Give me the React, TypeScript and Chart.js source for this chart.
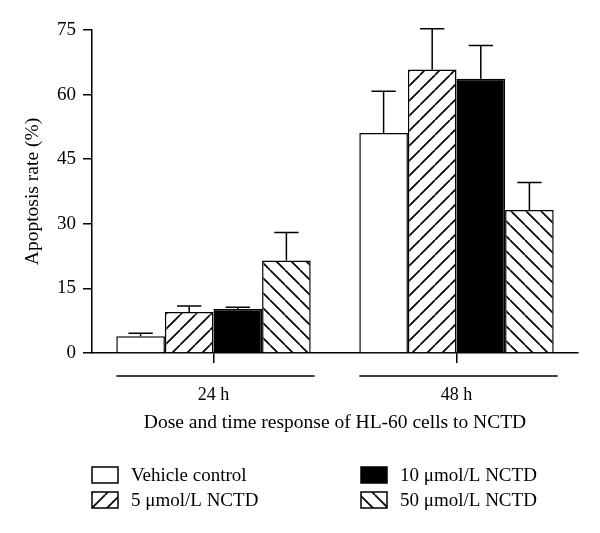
import React, { useEffect, useRef } from "react";
import { Chart, registerables } from "chart.js";

Chart.register(...registerables);

const categories = ["24 h", "48 h"];
const seriesNames = [
  "Vehicle control",
  "5 \u03bcmol/L NCTD",
  "10 \u03bcmol/L NCTD",
  "50 \u03bcmol/L NCTD",
];
const vehicleValues = [3.9, 51.1];
const nctd5Values = [9.5, 65.8];
const nctd10Values = [10.2, 63.7];
const nctd50Values = [21.5, 33.2];
const vehicleErr = [0.7, 9.7];
const nctd5Err = [1.4, 9.5];
const nctd10Err = [0.4, 7.7];
const nctd50Err = [6.5, 6.4];
const yTicks = [0, 15, 30, 45, 60, 75];

const FONT = "'Liberation Serif', 'DejaVu Serif', serif";

function makeHatch(dir: "fwd" | "back", size: number): CanvasPattern | string {
  const c = document.createElement("canvas");
  c.width = size;
  c.height = size;
  const g = c.getContext("2d");
  if (!g) return "#fff";
  g.fillStyle = "#fff";
  g.fillRect(0, 0, size, size);
  g.strokeStyle = "#000";
  g.lineWidth = 1.7;
  g.beginPath();
  for (let k = -1; k <= 1; k++) {
    if (dir === "fwd") {
      g.moveTo(k * size, size);
      g.lineTo(k * size + size, 0);
    } else {
      g.moveTo(k * size, 0);
      g.lineTo(k * size + size, size);
    }
  }
  g.stroke();
  const p = g.createPattern(c, "repeat");
  return p || "#fff";
}

export default function App() {
  const ref = useRef<HTMLCanvasElement | null>(null);

  useEffect(() => {
    if (!ref.current) return;
    const fwd = makeHatch("fwd", 15);
    const back = makeHatch("back", 15);
    const fills: any[] = ["#ffffff", fwd, "#000000", back];
    const values = [vehicleValues, nctd5Values, nctd10Values, nctd50Values];
    const errs = [vehicleErr, nctd5Err, nctd10Err, nctd50Err];

    const errorBarPlugin = {
      id: "errorBars",
      afterDatasetsDraw(chart: any) {
        const ctx = chart.ctx;
        const y = chart.scales.y;
        ctx.save();
        ctx.strokeStyle = "#000";
        ctx.lineWidth = 1.5;
        chart.data.datasets.forEach((ds: any, di: number) => {
          const meta = chart.getDatasetMeta(di);
          meta.data.forEach((bar: any, i: number) => {
            const v = ds.data[i];
            const e = errs[di][i];
            const top = y.getPixelForValue(v + e);
            const half = bar.width / 4;
            ctx.beginPath();
            ctx.moveTo(bar.x, bar.y);
            ctx.lineTo(bar.x, top);
            ctx.moveTo(bar.x - half, top);
            ctx.lineTo(bar.x + half, top);
            ctx.stroke();
          });
        });
        ctx.restore();
      },
    };

    const groupLinePlugin = {
      id: "groupLines",
      afterDraw(chart: any) {
        const ctx = chart.ctx;
        const nSets = chart.data.datasets.length;
        const first = chart.getDatasetMeta(0);
        const last = chart.getDatasetMeta(nSets - 1);
        const yLine = chart.chartArea.bottom + 23;
        ctx.save();
        ctx.strokeStyle = "#000";
        ctx.lineWidth = 1.5;
        categories.forEach((_c, i) => {
          const b0 = first.data[i];
          const b1 = last.data[i];
          const l = b0.x - b0.width / 2;
          const r = b1.x + b1.width / 2 + 4;
          ctx.beginPath();
          ctx.moveTo(l, yLine);
          ctx.lineTo(r, yLine);
          ctx.stroke();
        });
        ctx.restore();
      },
    };

    const legendPlugin = {
      id: "customLegend",
      afterDraw(chart: any) {
        const ctx = chart.ctx;
        ctx.save();
        ctx.font = `19px ${FONT}`;
        ctx.textBaseline = "middle";
        ctx.fillStyle = "#000";
        const cols = [92, 361];
        const rows = [475, 500];
        const order = [
          [0, 0],
          [0, 1],
          [1, 0],
          [1, 1],
        ];
        chart.data.datasets.forEach((ds: any, di: number) => {
          const [ci, ri] = order[di];
          const x = cols[ci];
          const yc = rows[ri];
          ctx.fillStyle = ds.backgroundColor;
          ctx.fillRect(x, yc - 8, 26, 16);
          ctx.strokeStyle = "#000";
          ctx.lineWidth = 1.5;
          ctx.strokeRect(x, yc - 8, 26, 16);
          ctx.fillStyle = "#000";
          ctx.fillText(ds.label, x + 39, yc + 1);
        });
        ctx.restore();
      },
    };

    const chart = new Chart(ref.current, {
      type: "bar",
      data: {
        labels: categories,
        datasets: seriesNames.map((name, i) => ({
          label: name,
          data: values[i],
          backgroundColor: fills[i],
          borderColor: "#000",
          borderWidth: 1.5,
          borderSkipped: "bottom",
          categoryPercentage: 0.8,
          barPercentage: 1.0,
        })),
      },
      options: {
        responsive: false,
        animation: false,
        devicePixelRatio: 1,
        layout: { padding: { left: 0, top: 30, right: 22, bottom: 98 } },
        plugins: {
          legend: { display: false },
          tooltip: { enabled: false },
        },
        scales: {
          x: {
            grid: {
              offset: false,
              drawOnChartArea: false,
              drawTicks: true,
              tickLength: 10,
              color: "#000",
              lineWidth: 1.5,
            },
            border: { color: "#000", width: 1.5 },
            ticks: {
              color: "#000",
              padding: 21,
              font: { family: FONT, size: 18 },
            },
            title: {
              display: true,
              text: "Dose and time response of HL-60 cells to NCTD",
              color: "#000",
              font: { family: FONT, size: 19.5 },
              padding: { top: 0, bottom: 0 },
            },
            afterFit(scale: any) {
              scale.height = 82;
            },
          },
          y: {
            min: 0,
            max: 75,
            afterBuildTicks(scale: any) {
              scale.ticks = yTicks.map((v) => ({ value: v }));
            },
            grid: {
              drawOnChartArea: false,
              drawTicks: true,
              tickLength: 9,
              color: "#000",
              lineWidth: 1.5,
            },
            border: { color: "#000", width: 1.5 },
            ticks: {
              color: "#000",
              padding: 7,
              font: { family: FONT, size: 19 },
            },
            title: {
              display: true,
              text: "Apoptosis rate (%)",
              color: "#000",
              font: { family: FONT, size: 19.5 },
              padding: { top: 21, bottom: 0 },
            },
            afterFit(scale: any) {
              scale.width = 92;
            },
          },
        },
      },
      plugins: [errorBarPlugin, groupLinePlugin, legendPlugin],
    });
    return () => chart.destroy();
  }, []);

  return (
    <div style={{ position: "fixed", left: 0, top: 0, width: 600, height: 533, background: "#fff" }}>
      <canvas ref={ref} width={600} height={533} style={{ width: 600, height: 533 }} />
    </div>
  );
}
